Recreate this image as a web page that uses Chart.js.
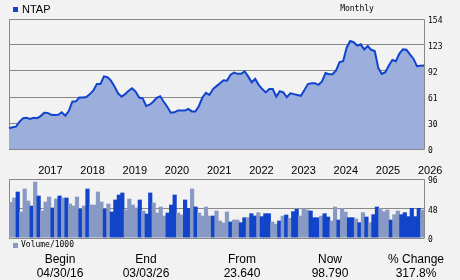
<!DOCTYPE html>
<html>
<head>
<meta charset="utf-8">
<script src="https://cdn.jsdelivr.net/npm/chart.js@4.4.1/dist/chart.umd.min.js"></script>
<style>
html,body{margin:0;padding:0;background:#f2f2f2;}
#wrap{position:relative;width:460px;height:280px;overflow:hidden;font-family:"Liberation Sans",Arial,sans-serif;color:#000;}
canvas{position:absolute;left:0;}
.t{position:absolute;white-space:nowrap;line-height:14px;height:14px;}
.c{transform:translateX(-50%);}
.mono{font-family:"DejaVu Sans Mono",monospace;font-size:8px;}
.sq{position:absolute;width:5px;height:5px;}
</style>
</head>
<body>
<div id="wrap">
  <canvas id="price" width="460" height="185" style="top:0"></canvas>
  <canvas id="vol" width="460" height="80" style="top:170px"></canvas>

  <div class="sq" style="left:13px;top:7px;background:#1144cc"></div>
  <div class="t" style="left:22px;top:2px;font-size:11px">NTAP</div>
  <div class="t mono c" style="left:357px;top:2px">Monthly</div>

  <div class="sq" style="left:13px;top:243px;background:#8899c4"></div>
  <div class="t mono" style="left:21px;top:238px">Volume/1000</div>

  <div id="stats"></div>
</div>
<script>
// monthly closes, May 2016 .. Mar 2026
const months = [
  '2016-05','2016-06','2016-07','2016-08','2016-09','2016-10','2016-11','2016-12',
  '2017-01','2017-02','2017-03','2017-04','2017-05','2017-06','2017-07','2017-08','2017-09','2017-10','2017-11','2017-12',
  '2018-01','2018-02','2018-03','2018-04','2018-05','2018-06','2018-07','2018-08','2018-09','2018-10','2018-11','2018-12',
  '2019-01','2019-02','2019-03','2019-04','2019-05','2019-06','2019-07','2019-08','2019-09','2019-10','2019-11','2019-12',
  '2020-01','2020-02','2020-03','2020-04','2020-05','2020-06','2020-07','2020-08','2020-09','2020-10','2020-11','2020-12',
  '2021-01','2021-02','2021-03','2021-04','2021-05','2021-06','2021-07','2021-08','2021-09','2021-10','2021-11','2021-12',
  '2022-01','2022-02','2022-03','2022-04','2022-05','2022-06','2022-07','2022-08','2022-09','2022-10','2022-11','2022-12',
  '2023-01','2023-02','2023-03','2023-04','2023-05','2023-06','2023-07','2023-08','2023-09','2023-10','2023-11','2023-12',
  '2024-01','2024-02','2024-03','2024-04','2024-05','2024-06','2024-07','2024-08','2024-09','2024-10','2024-11','2024-12',
  '2025-01','2025-02','2025-03','2025-04','2025-05','2025-06','2025-07','2025-08','2025-09','2025-10','2025-11','2025-12',
  '2026-01','2026-02','2026-03'
];
const yearLabels = ['2017','2018','2019','2020','2021','2022','2023','2024','2025','2026'];

const price = [
  24.5,25.8,26.5,32.5,36.5,37,35.5,37,
  36.5,39,43,42.8,40.5,40.3,40.5,43.5,39.5,45,56,56.5,
  61,61,61.5,65,69.5,77,77,86,85,81,74,66,
  62,65,69,72,68,61,60,51,52.5,56,60.5,62.5,
  56,50,43,43.5,45.5,45.5,45.5,47.5,44.5,44.5,51,61,
  66.5,64,71,74.5,78,81.5,81,88,90.5,89,89,92,
  86,79,83,76,71,67,71,71,62,68.5,67,61.5,
  66,65,64,63,70,77,78,78,76,80,90,88.5,
  88.5,93,103,104,120,128,126.5,122.5,124,118,122,117.5,
  116,96,89,91,99,105.5,104,113,118,117.5,112,107,
  98,98.5,98.79
];

const volume = [
  58.6,65.6,75.4,42.8,80.3,60.8,52.6,91.7,
  68.9,44.5,59.1,67.3,49.4,64,68.9,65.6,65.6,55.9,52.6,67.3,
  47.7,52.6,80.3,54.2,54.2,75.4,59.1,47.7,55.9,42.8,62.4,70.5,
  73.8,46.1,64,54.2,49.4,62.4,44.5,39.6,73.8,57.5,41.2,51,
  36.3,41.2,54.2,70.5,41.2,38,62.4,48.8,80.3,51,41.2,36.3,
  51,36.3,36.3,44.5,28.2,25,42.8,26.6,29.8,29.8,25.5,33.6,
  33.6,40.1,36.3,41.8,35.3,40.1,40.1,26.6,23.3,28.2,36.3,38,
  32.5,43.4,47.2,36.3,48.3,46.1,44.5,33.6,33.6,36.3,40.1,34.7,
  28.2,51,29.8,48.8,42.8,33.6,33.6,31.5,25.5,41.8,34.7,25.5,
  38.5,51,48.8,43.4,46.1,29.8,38.5,44.5,38.5,41.8,35.3,48.8,
  35.3,48.8,46.1
];
// 1 = dark bar, 0 = light bar
const volDark = [
  0,0,1,0,0,0,1,0,
  1,0,0,0,1,0,1,0,1,0,0,0,
  1,0,1,0,0,0,0,1,0,1,1,1,
  1,0,0,0,0,1,0,1,1,0,0,0,
  0,1,1,1,0,0,1,1,0,1,0,0,
  0,0,1,0,0,0,0,1,0,0,1,1,
  0,1,1,0,1,1,1,0,0,1,0,1,
  0,1,1,0,0,0,1,1,1,0,1,1,
  0,0,1,0,0,1,1,0,1,0,1,0,
  1,1,0,0,0,1,0,0,1,1,1,1,
  1,1,0
];

const priceTicks = [0, 30.8, 61.6, 92.4, 123.2, 154];
const priceTickLabels = ['0', '30', '61', '92', '123', '154'];
const volTicks = [0, 48, 96];
const volTickLabels = ['0', '48', '96'];

const statHeads = ['Begin', 'End', 'From', 'Now', '% Change'];
const statValues = ['04/30/16', '03/03/26', '23.640', '98.790', '317.8%'];
const statX = [60, 146, 242, 330, 416];

const LINE = '#1144cc', FILL = '#9cafdc', DARK = '#1144c8', LIGHT = '#8899c4', GRID = '#888';
const monoFont = { family: 'DejaVu Sans Mono', size: 8 };

// stats row under the chart
const stats = document.getElementById('stats');
statHeads.forEach((h, i) => {
  const a = document.createElement('div'); a.className = 't c'; a.style.cssText = `left:${statX[i]}px;top:252px;font-size:12px`; a.textContent = h; stats.appendChild(a);
  const b = document.createElement('div'); b.className = 't c'; b.style.cssText = `left:${statX[i]}px;top:266px;font-size:12px`; b.textContent = statValues[i]; stats.appendChild(b);
});

// grey frame round the plot area
function framePlugin(sides) {
  return {
    id: 'frame',
    beforeDatasetsDraw(chart) {
      const { ctx, chartArea: a } = chart;
      const l = Math.round(a.left) + 0.5, r = Math.round(a.right) + 0.5, t = Math.round(a.top) + 0.5, b = Math.round(a.bottom) + 0.5;
      ctx.save(); ctx.strokeStyle = GRID; ctx.lineWidth = 1; ctx.beginPath();
      ctx.moveTo(l, b); ctx.lineTo(l, t); ctx.lineTo(r, t); ctx.lineTo(r, b);
      if (sides === 4) ctx.lineTo(l, b);
      ctx.stroke(); ctx.restore();
    }
  };
}

new Chart(document.getElementById('price'), {
  type: 'line',
  data: { labels: months, datasets: [{ label: 'NTAP', data: price, borderColor: LINE, backgroundColor: FILL, borderWidth: 2, pointRadius: 0, tension: 0, fill: 'origin' }] },
  options: {
    responsive: false, animation: false,
    layout: { padding: { left: 9, top: 19, right: 0, bottom: 0 } },
    plugins: { legend: { display: false }, tooltip: { enabled: false } },
    scales: {
      x: {
        type: 'category', offset: false,
        grid: { display: false, drawTicks: false }, border: { display: false },
        ticks: {
          autoSkip: false, maxRotation: 0, align: 'start', padding: 15, labelOffset: 1, color: '#000',
          font: { family: 'Liberation Sans', size: 11 },
          callback(v, i) { const m = months[i]; const y = m.slice(0, 4); return m.endsWith('-01') && yearLabels.includes(y) ? y : null; }
        },
        afterFit(s) { s.height = 36; }
      },
      y: {
        position: 'right', min: 0, max: 154,
        afterBuildTicks(s) { s.ticks = priceTicks.map(v => ({ value: v })); },
        grid: { color: GRID, lineWidth: 1, drawTicks: false }, border: { display: false },
        ticks: { padding: 4, labelOffset: 2, color: '#000', font: monoFont, callback(v, i) { return priceTickLabels[i]; } },
        afterFit(s) { s.width = 36; }
      }
    }
  },
  plugins: [framePlugin(4)]
});

// bars a little wider than their slot so neighbours overlap and no seams show
new Chart(document.getElementById('vol'), {
  type: 'bar',
  data: { labels: months, datasets: [{ label: 'Volume/1000', data: volume, backgroundColor: ctx => volDark[ctx.dataIndex] ? DARK : LIGHT, borderWidth: 0, categoryPercentage: 1, barPercentage: 1.2 }] },
  options: {
    responsive: false, animation: false,
    layout: { padding: { left: 9, top: 9, right: 0, bottom: 12 } },
    plugins: { legend: { display: false }, tooltip: { enabled: false } },
    scales: {
      x: { type: 'category', display: false, offset: true },
      y: {
        position: 'right', min: 0, max: 96,
        afterBuildTicks(s) { s.ticks = volTicks.map(v => ({ value: v })); },
        grid: { color: GRID, lineWidth: 1, drawTicks: false }, border: { display: false },
        ticks: { padding: 4, labelOffset: 2, color: '#000', font: monoFont, callback(v, i) { return volTickLabels[i]; } },
        afterFit(s) { s.width = 36; }
      }
    }
  },
  plugins: [framePlugin(3)]
});
</script>
</body>
</html>
